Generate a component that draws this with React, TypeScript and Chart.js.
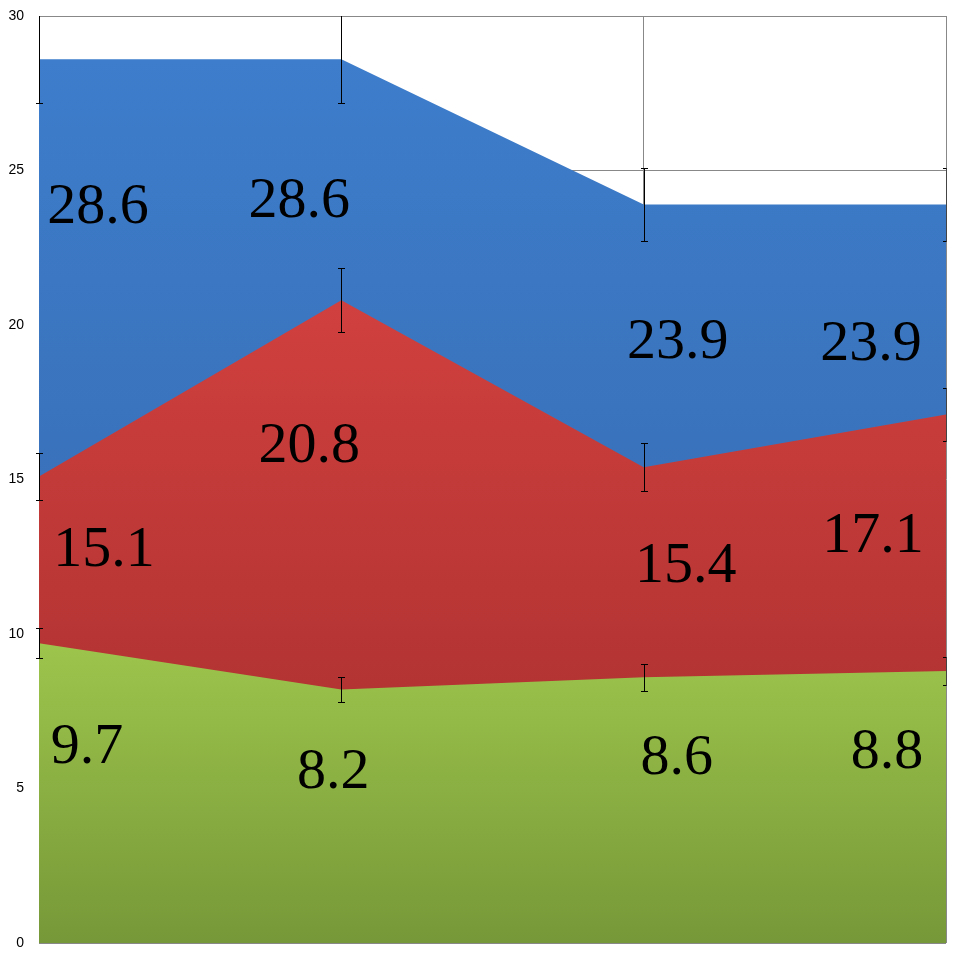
import { useEffect, useRef } from "react";
import { Chart, registerables } from "chart.js";
import type { ChartConfiguration, Plugin } from "chart.js";

Chart.register(...registerables);

const periods = ["1", "2", "3", "4"];
const greenValues = [9.7, 8.2, 8.6, 8.8];
const redValues = [15.1, 20.8, 15.4, 17.1];
const blueValues = [28.6, 28.6, 23.9, 23.9];
const yTickLabels = ["0", "5", "10", "15", "20", "25", "30"];

// Excel style error bars: 5% of the value
const errorPercent = 5;

// pixel nudges for the value labels (Excel put them by hand-ish)
const greenLabelNudge = [[48, 100], [-8, 78], [33, 77], [-59, 77]];
const redLabelNudge = [[65, 70], [-32, 142], [42, 95], [-73, 117]];
const blueLabelNudge = [[59, 144], [-42, 138], [34, 134], [-75, 136]];

const nudges = [greenLabelNudge, redLabelNudge, blueLabelNudge];

function gradient(top: string, bottom: string, values: number[]) {
  return (ctx: any) => {
    const chart = ctx.chart;
    const y = chart.scales.y;
    if (!chart.chartArea || !y) return top;
    const g = chart.ctx.createLinearGradient(
      0,
      y.getPixelForValue(Math.max(...values)),
      0,
      y.getPixelForValue(0)
    );
    g.addColorStop(0, top);
    g.addColorStop(1, bottom);
    return g;
  };
}

const errorBarsAndLabels: Plugin = {
  id: "errorBarsAndLabels",
  afterDatasetsDraw(chart) {
    const { ctx, chartArea } = chart;
    const x = chart.scales.x;
    const y = chart.scales.y;

    // error bars
    ctx.save();
    ctx.beginPath();
    ctx.rect(0, chartArea.top, chartArea.right + 0.5, chartArea.bottom - chartArea.top);
    ctx.clip();
    ctx.strokeStyle = "#000";
    ctx.lineWidth = 1;
    chart.data.datasets.forEach((ds) => {
      (ds.data as number[]).forEach((v, i) => {
        const err = (v * errorPercent) / 100;
        const px = Math.round(x.getPixelForValue(i)) + 0.5;
        const hi = Math.round(y.getPixelForValue(v + err)) + 0.5;
        const lo = Math.round(y.getPixelForValue(v - err)) + 0.5;
        ctx.beginPath();
        ctx.moveTo(px, hi);
        ctx.lineTo(px, lo);
        ctx.moveTo(px - 3.5, hi);
        ctx.lineTo(px + 3.5, hi);
        ctx.moveTo(px - 3.5, lo);
        ctx.lineTo(px + 3.5, lo);
        ctx.stroke();
      });
    });
    ctx.restore();

    // value labels
    ctx.save();
    ctx.fillStyle = "#000";
    ctx.font = '58px "Liberation Serif", "Times New Roman", serif';
    ctx.textAlign = "center";
    ctx.textBaseline = "alphabetic";
    chart.data.datasets.forEach((ds, di) => {
      (ds.data as number[]).forEach((v, i) => {
        const [dx, dy] = nudges[di][i];
        const px = x.getPixelForValue(i) + dx;
        const py = y.getPixelForValue(v) + dy;
        ctx.fillText(v.toFixed(1), px, py + 20);
      });
    });
    ctx.restore();
  },
};

export default function App() {
  const canvasRef = useRef<HTMLCanvasElement>(null);
  const chartRef = useRef<Chart | null>(null);

  useEffect(() => {
    if (!canvasRef.current) return;
    document.body.style.margin = "0";

    if (chartRef.current) {
      chartRef.current.destroy();
    }

    const config: ChartConfiguration = {
      type: "line",
      data: {
        labels: periods,
        datasets: [
          {
            label: "Green",
            data: greenValues,
            fill: "origin",
            backgroundColor: gradient("#9DC54C", "#779838", greenValues),
            borderWidth: 0,
            pointRadius: 0,
            tension: 0,
          },
          {
            label: "Red",
            data: redValues,
            fill: "origin",
            backgroundColor: gradient("#D0403E", "#A02C2C", redValues),
            borderWidth: 0,
            pointRadius: 0,
            tension: 0,
          },
          {
            label: "Blue",
            data: blueValues,
            fill: "origin",
            backgroundColor: gradient("#3D7DCB", "#3665AA", blueValues),
            borderWidth: 0,
            pointRadius: 0,
            tension: 0,
          },
        ],
      },
      options: {
        animation: false,
        responsive: true,
        maintainAspectRatio: false,
        layout: {
          padding: { left: 0, top: 16, right: 14, bottom: 17 },
        },
        plugins: {
          legend: { display: false },
          tooltip: { enabled: false },
        },
        scales: {
          x: {
            offset: false,
            ticks: { display: false },
            grid: { color: "#888", lineWidth: 1, drawTicks: false },
            border: { display: false },
            afterFit: (scale: any) => {
              scale.height = 0;
              scale.paddingLeft = 0;
              scale.paddingRight = 0;
            },
          },
          y: {
            min: 0,
            max: 30,
            ticks: {
              stepSize: 5,
              padding: 15,
              color: "#000",
              font: { family: '"Liberation Sans", Arial, sans-serif', size: 14 },
              callback: (_v, i) => yTickLabels[i],
            },
            grid: { color: "#888", lineWidth: 1, drawTicks: false },
            border: { color: "#888", width: 1 },
            afterFit: (scale: any) => {
              scale.width = 39;
              scale.paddingTop = 0;
              scale.paddingBottom = 0;
            },
          },
        },
      },
      plugins: [errorBarsAndLabels],
    };

    chartRef.current = new Chart(canvasRef.current, config);

    return () => {
      if (chartRef.current) {
        chartRef.current.destroy();
        chartRef.current = null;
      }
    };
  }, []);

  return (
    <div style={{ position: "relative", width: 960, height: 960, background: "#fff" }}>
      <canvas ref={canvasRef}></canvas>
    </div>
  );
}
